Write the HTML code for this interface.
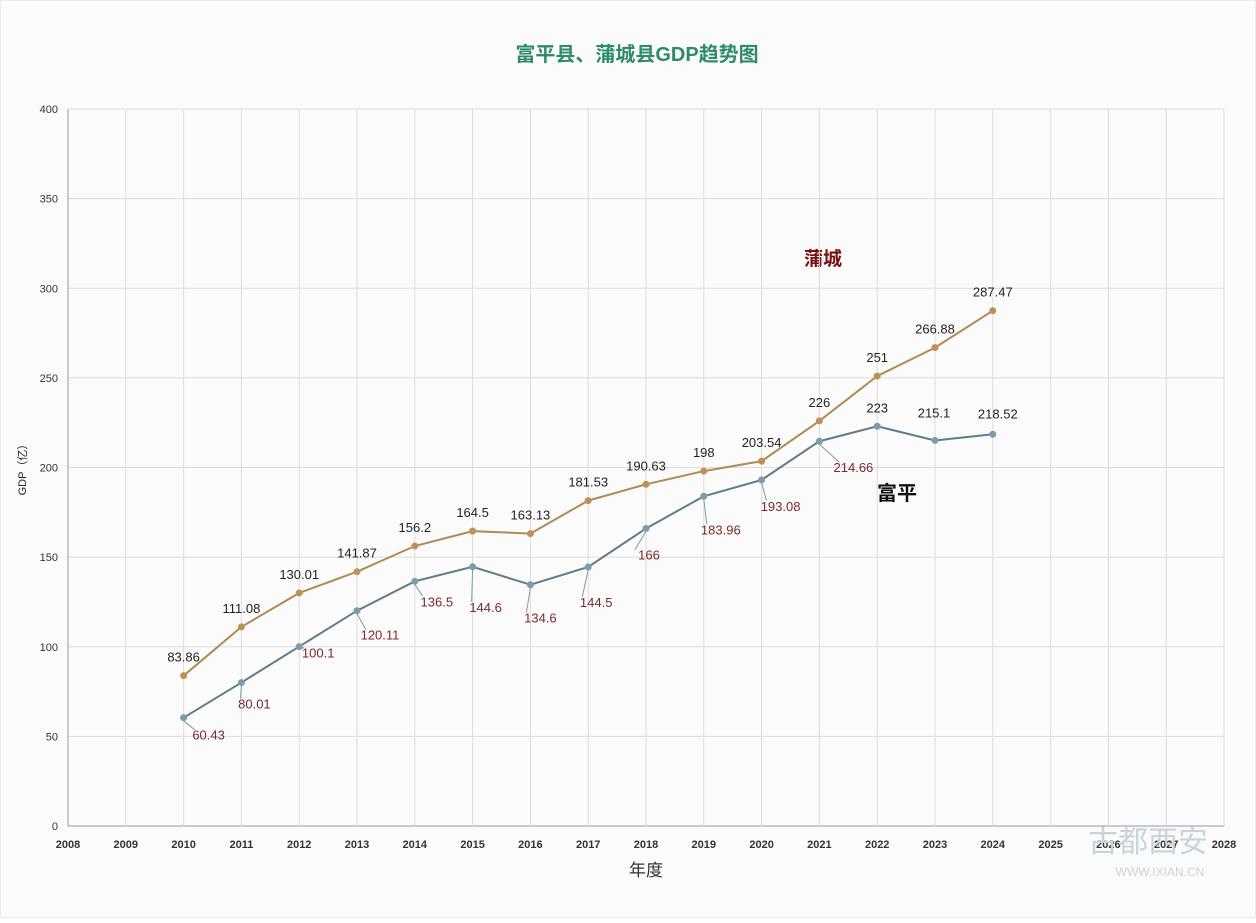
<!DOCTYPE html>
<html><head><meta charset="utf-8"><style>
body{margin:0;background:#fff;}
svg text{font-family:"Liberation Sans","Noto Sans CJK SC",sans-serif;}
</style></head><body>
<svg id="c" width="1256" height="918" viewBox="0 0 1256 918">
<rect x="0" y="0" width="1256" height="918" fill="#fbfbfb" stroke="#ddd"/>
<text x="637" y="61" text-anchor="middle" font-size="20" font-weight="bold" fill="#2e8b6a">富平县、蒲城县GDP趋势图</text>
<text x="26" y="467" text-anchor="middle" font-size="11" fill="#222" transform="rotate(-90 26 467)">GDP（亿）</text>
<text x="646" y="876" text-anchor="middle" font-size="17" fill="#333" font-family="Noto Serif CJK SC,serif">年度</text>
<text x="823" y="265" text-anchor="middle" font-size="19" font-weight="bold" fill="#7a1010">蒲城</text>
<text x="897" y="500" text-anchor="middle" font-size="20" font-weight="bold" fill="#111">富平</text>
<g id="grid"></g><g id="series"></g>
<text x="1148" y="852" text-anchor="middle" font-size="30" fill="#c9d3dc" font-family="Noto Serif CJK SC,serif">古都西安</text>
<text x="1160" y="876" text-anchor="middle" font-size="12" fill="#c9d3dc">WWW.IXIAN.CN</text>
</svg>
<script>
const years=[2010,2011,2012,2013,2014,2015,2016,2017,2018,2019,2020,2021,2022,2023,2024];
const pucheng=[83.86,111.08,130.01,141.87,156.2,164.5,163.13,181.53,190.63,198,203.54,226,251,266.88,287.47];
const fuping=[60.43,80.01,100.1,120.11,136.5,144.6,134.6,144.5,166,183.96,193.08,214.66,223,215.1,218.52];
const xTicks=[2008,2009,2010,2011,2012,2013,2014,2015,2016,2017,2018,2019,2020,2021,2022,2023,2024,2025,2026,2027,2028];
const yTicks=[0,50,100,150,200,250,300,350,400];
const NS='http://www.w3.org/2000/svg';
const X=y=>68+(y-2008)*(1224-68)/20;
const Y=v=>826-v*(826-109)/400;
function mk(t,a,p){const e=document.createElementNS(NS,t);for(const k in a)e.setAttribute(k,a[k]);p.appendChild(e);return e;}
const g=document.getElementById('grid'),s=document.getElementById('series');
yTicks.forEach(v=>{
 const l=mk('line',{x1:68,x2:1224,y1:Y(v),y2:Y(v),stroke:v===0?'#999':'#ddd'},g);
 
 
 const t=mk('text',{x:58,y:Y(v)+4,'text-anchor':'end','font-size':11,fill:'#333'},g);t.textContent=v;
 
 
});
xTicks.forEach(v=>{
 const l=mk('line',{x1:X(v),x2:X(v),y1:109,y2:826,stroke:v===2008?'#999':'#ddd'},g);
 
 
 const t=mk('text',{x:X(v),y:848,'text-anchor':'middle','font-size':11,'font-weight':'bold',fill:'#333'},g);t.textContent=v;
 
 
});
function line(vals,color,pc,name){
 const p=mk('polyline',{points:vals.map((v,i)=>X(years[i])+','+Y(v)).join(' '),fill:'none',stroke:color,'stroke-width':2},s);
 
 
 vals.forEach((v,i)=>{const c=mk('circle',{cx:X(years[i]),cy:Y(v),r:3.5,fill:pc},s);
 
 });
}
line(pucheng,'#b08a55','#c0905a','pucheng');
line(fuping,'#5f7c8a','#7d9cab','fuping');
pucheng.forEach((v,i)=>{const t=mk('text',{x:X(years[i]),y:Y(v)-14,'text-anchor':'middle','font-size':13,fill:'#222'},s);t.textContent=v;
 
 });
const fdx=[25,13,19,23,22,13,10,8,3,17,19,34,0,-1,5],fdy=[22,26,11,29,25,45,38,40,31,38,31,31,-14,-23,-16];
fuping.forEach((v,i)=>{const x=X(years[i]),y=Y(v);
 if(i<12){mk('line',{x1:x,y1:y+3,x2:x+fdx[i]-14,y2:y+fdy[i]-10,stroke:'#7d9cab'},s);}
 const t=mk('text',{x:x+fdx[i],y:y+fdy[i],'text-anchor':'middle','font-size':13,fill:i<12?'#7a2a2a':'#222'},s);t.textContent=v;
 
 });
</script>
</body></html>
